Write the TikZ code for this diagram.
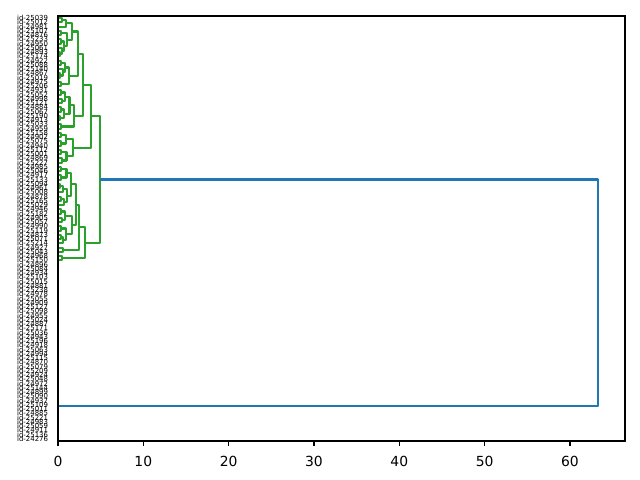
\documentclass[tikz,border=0pt]{standalone}
\usepackage{fontspec}
\setmainfont{DejaVu Sans}
\usetikzlibrary{calc}
\definecolor{mplgreen}{HTML}{2CA02C}
\definecolor{mplblue}{HTML}{1F77B4}
\tikzset{
  glink/.style={draw=mplgreen,line width=1.5pt,line join=round},
  blink/.style={draw=mplblue,line width=1.5pt,line join=round},
  spine/.style={draw=black,line width=0.8pt},
  leaflab/.style={anchor=east,inner sep=0pt,font=\fontsize{5}{5}\selectfont,text=black},
  ticklab/.style={inner sep=0pt,font=\fontsize{10}{12}\selectfont}
}
\newcommand\dlink[4]{%
  \coordinate (tmpd) at (#2,0);
  \draw[glink] (#3) -- (#3 -| tmpd) -- (#4 -| tmpd) -- (#4);
  \coordinate (#1) at ($(#3 -| tmpd)!0.5!(#4 -| tmpd)$);
}
\begin{document}
\begin{tikzpicture}[x=0.72pt,y=-0.72pt]
\useasboundingbox (0,0) rectangle (640,480);
% leaf labels
\foreach \k/\t in {0/25039,1/25012,2/24981,3/25107,4/24876,5/25233,6/24950,7/25061,8/24893,9/25174,
10/24922,11/25088,12/25140,13/24867,14/25019,15/24975,16/25206,17/24931,18/25052,19/24998,
20/25121,21/24884,22/25067,23/25190,24/24913,25/25033,26/24959,27/25158,28/24902,29/25075,
30/24940,31/25112,32/25001,33/24869,34/25227,35/24985,36/25046,37/24917,38/25133,39/25094,
40/24961,41/25008,42/24878,43/25165,44/25029,45/24946,46/25182,47/24905,48/25057,49/24990,
50/25119,51/24873,52/25071,53/25214,54/24927,55/25043,56/24968,57/25150,58/24896,59/25084,
60/24934,61/25103,62/25015,63/24881,64/25238,65/24978,66/25055,67/24909,68/25127,69/25098,
70/24955,71/25024,72/24887,73/25171,74/25036,75/24943,76/25196,77/24918,78/25063,79/24994,
80/25115,81/24870,82/25079,83/25209,84/24924,85/25048,86/24972,87/25144,88/24899,89/25090,
90/24937,91/25109,92/25011,93/24885,94/25221,95/24983,96/25059,97/24911,98/25136,99/24276}
  \node[leaflab] (lab\k) at (48.3,{18.125+4.25*\k}) {id-\t};
% dendrogram
\begin{scope}[shift={(58,18.125)}]
\begin{scope}[x=6.1438pt,y=-3.06pt]
\foreach \k in {0,...,99} \coordinate (l\k) at (0,\k);
% A1a-i
\dlink{a1}{0.45}{l0}{l1}
\dlink{a2}{0.9}{a1}{l2}
\dlink{a3}{0.35}{l3}{l4}
\dlink{a4}{0.3}{l5}{l6}
\dlink{a5}{0.2}{l8}{l9}
\dlink{a6}{0.5}{l7}{a5}
\dlink{a7}{0.7}{a4}{a6}
\dlink{a8}{1.1}{a3}{a7}
\dlink{a9}{1.65}{a2}{a8}
% A1a-ii
\dlink{b1}{0.4}{l10}{l11}
\dlink{b2}{0.25}{l13}{l14}
\dlink{b3}{0.6}{l12}{b2}
\dlink{b4}{0.85}{b1}{b3}
\dlink{b5}{0.3}{l15}{l16}
\dlink{b6}{1.25}{b4}{b5}
\dlink{a10}{2.31}{a9}{b6}
% A1b
\dlink{c1}{0.3}{l17}{l18}
\dlink{c2}{0.45}{l19}{l20}
\dlink{c3}{0.8}{c1}{c2}
\dlink{c4}{0.35}{l21}{l22}
\dlink{c5}{0.25}{l23}{l24}
\dlink{c6}{0.7}{c4}{c5}
\dlink{c7}{1.35}{c3}{c6}
\dlink{c8}{0.4}{l25}{l26}
\dlink{c9}{1.85}{c7}{c8}
\dlink{a11}{2.9}{a10}{c9}
% A2
\dlink{e1}{0.35}{l27}{l28}
\dlink{e2}{0.3}{l29}{l30}
\dlink{e3}{0.9}{e1}{e2}
\dlink{e4}{0.4}{l31}{l32}
\dlink{e5}{0.5}{l33}{l34}
\dlink{e6}{1.0}{e4}{e5}
\dlink{e7}{1.72}{e3}{e6}
\dlink{nA}{3.87}{a11}{e7}
% B1a-i
\dlink{f1}{0.3}{l35}{l36}
\dlink{f2}{0.4}{l37}{l38}
\dlink{f3}{1.0}{f1}{f2}
\dlink{f4}{0.25}{l39}{l40}
\dlink{f5}{0.6}{f4}{l41}
\dlink{f6}{0.35}{l42}{l43}
\dlink{f7}{0.65}{f6}{l44}
\dlink{f8}{1.1}{f5}{f7}
\dlink{f9}{1.5}{f3}{f8}
% B1a-ii
\dlink{g1}{0.3}{l45}{l46}
\dlink{g2}{0.45}{l47}{l48}
\dlink{g3}{0.85}{g1}{g2}
\dlink{g4}{0.35}{l49}{l50}
\dlink{g5}{0.3}{l51}{l52}
\dlink{g6}{0.6}{g5}{l53}
\dlink{g7}{0.95}{g4}{g6}
\dlink{g8}{1.6}{g3}{g7}
\dlink{f10}{2.1}{f9}{g8}
% B1b, B2
\dlink{h1}{0.55}{l54}{l55}
\dlink{nB1}{2.5}{f10}{h1}
\dlink{h2}{0.47}{l56}{l57}
\dlink{nB}{3.2}{nB1}{h2}
\dlink{nG}{4.92}{nA}{nB}
% root
\coordinate (nZ) at (0,91.26);
\coordinate (nR) at (63.3,0);
\draw[blink] (nG) -- (nG -| nR) -- (nZ -| nR) -- (nZ);
\end{scope}
\end{scope}
% axes frame
\draw[spine] (58,16) rectangle (625,441);
\foreach \v in {0,10,...,60}{
  \draw[spine] ({58+8.533*\v},441) -- ++(0,4.86);
  \node[ticklab] (t\v) at ({58+8.533*\v},461) {\v};
}
\end{tikzpicture}
\end{document}
